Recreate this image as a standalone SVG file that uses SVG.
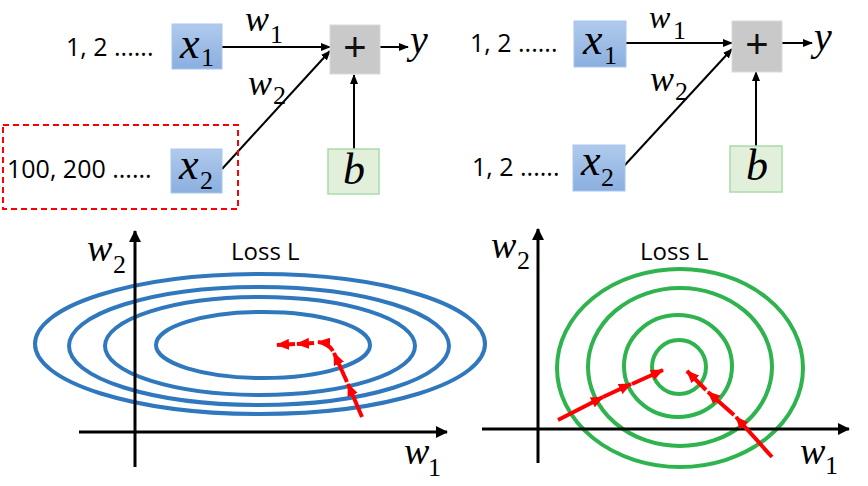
<svg xmlns="http://www.w3.org/2000/svg" width="868" height="486" viewBox="0 0 868 486">
<defs>
<linearGradient id="blueG" x1="0" y1="0" x2="0" y2="1">
<stop offset="0" stop-color="#b0caec"/>
<stop offset="1" stop-color="#8aafe0"/>
</linearGradient>
<marker id="ah" markerUnits="userSpaceOnUse" markerWidth="10" markerHeight="8" refX="9" refY="4" orient="auto">
<path d="M0,0 L10,4 L0,8 z" fill="#000"/>
</marker>
<marker id="axh" markerUnits="userSpaceOnUse" markerWidth="12" markerHeight="12" refX="11" refY="6" orient="auto">
<path d="M0,0 L12,6 L0,12 z" fill="#000"/>
</marker>
<marker id="rh" markerUnits="userSpaceOnUse" markerWidth="13" markerHeight="11" refX="12" refY="5.5" orient="auto">
<path d="M0,0 L13,5.5 L0,11 z" fill="#ff0000"/>
</marker>
<style>
.num{font-family:"Open Sans","Liberation Sans",sans-serif;font-size:25px;fill:#000}
.loss{font-family:"Open Sans","Liberation Sans",sans-serif;font-size:24px;fill:#000}
.mi{font-family:"Liberation Serif","DejaVu Serif",serif;font-style:italic;fill:#000}
.sub{font-family:"Liberation Serif","DejaVu Serif",serif;fill:#000}
.inbox{fill:url(#blueG);stroke:#a9c6ec;stroke-width:1}
.sum{fill:#c9c9c9;stroke:#dadada;stroke-width:1}
.bias{fill:#e2efda;stroke:#a8dcaa;stroke-width:1.5}
.conn{stroke:#000;stroke-width:2;fill:none;marker-end:url(#ah)}
.axis{stroke:#000;stroke-width:3;fill:none}
.blue{fill:none;stroke:#2f78bd;stroke-width:4}
.green{fill:none;stroke:#2fb34e;stroke-width:4}
.red{fill:none;stroke:#ff0000;stroke-width:4;marker-end:url(#rh)}
.plus{font-family:"Liberation Sans",sans-serif;font-size:40px;fill:#111}
</style>
</defs>

<!-- ===== Top left network ===== -->
<g id="connectors-left">
<line class="conn" x1="222" y1="47" x2="330" y2="47"/>
<line class="conn" x1="222" y1="169" x2="330" y2="51"/>
<line class="conn" x1="354" y1="149" x2="354" y2="75"/>
<line class="conn" x1="380" y1="47" x2="408" y2="47"/>
</g>
<g id="highlight-left">
<rect x="3" y="125" width="235" height="84" fill="none" stroke="#ff0000" stroke-width="2" stroke-dasharray="6,4"/>
</g>
<g id="in1-left">
<text class="num" x="66" y="56">1, 2 ......</text>
</g>
<g id="in2-left">
<text class="num" x="7" y="178">100, 200 ......</text>
</g>
<g id="x1-left">
<rect class="inbox" x="172" y="24" width="50" height="45"/>
<text class="mi" x="180" y="58" font-size="44">x</text>
<text class="sub" x="201" y="66" font-size="26">1</text>
</g>
<g id="x2-left">
<rect class="inbox" x="171" y="149" width="51" height="44"/>
<text class="mi" x="179" y="179" font-size="44">x</text>
<text class="sub" x="200" y="189" font-size="26">2</text>
</g>
<g id="w1-left">
<text class="mi" x="245" y="31" font-size="36">w</text>
<text class="sub" x="270" y="43" font-size="26">1</text>
</g>
<g id="w2-left">
<text class="mi" x="248" y="95" font-size="36">w</text>
<text class="sub" x="273" y="104" font-size="26">2</text>
</g>
<g id="sum-left">
<rect class="sum" x="330" y="25" width="50" height="49"/>
<text class="plus" x="355" y="61" text-anchor="middle">+</text>
</g>
<g id="b-left">
<rect class="bias" x="328" y="149" width="51" height="45"/>
<text class="mi" x="354" y="184" font-size="44" text-anchor="middle">b</text>
</g>
<g id="y-left">
<text class="mi" x="410" y="53" font-size="40">y</text>
</g>

<!-- ===== Top right network ===== -->
<g id="connectors-right">
<line class="conn" x1="626" y1="43" x2="732" y2="43"/>
<line class="conn" x1="624" y1="166" x2="732" y2="49"/>
<line class="conn" x1="756" y1="146" x2="756" y2="72"/>
<line class="conn" x1="782" y1="43" x2="812" y2="43"/>
</g>
<g id="in1-right">
<text class="num" x="470" y="52">1, 2 ......</text>
</g>
<g id="in2-right">
<text class="num" x="472" y="176">1, 2 ......</text>
</g>
<g id="x1-right">
<rect class="inbox" x="574" y="21" width="52" height="46"/>
<text class="mi" x="583" y="54" font-size="44">x</text>
<text class="sub" x="604" y="64" font-size="26">1</text>
</g>
<g id="x2-right">
<rect class="inbox" x="573" y="145" width="52" height="46"/>
<text class="mi" x="581" y="175" font-size="44">x</text>
<text class="sub" x="601" y="186" font-size="26">2</text>
</g>
<g id="w1-right">
<text class="mi" x="649" y="28" font-size="32">w</text>
<text class="sub" x="673" y="39" font-size="26">1</text>
</g>
<g id="w2-right">
<text class="mi" x="650" y="91" font-size="36">w</text>
<text class="sub" x="675" y="100" font-size="26">2</text>
</g>
<g id="sum-right">
<rect class="sum" x="732" y="21" width="50" height="51"/>
<text class="plus" x="757" y="58" text-anchor="middle">+</text>
</g>
<g id="b-right">
<rect class="bias" x="730" y="146" width="52" height="46"/>
<text class="mi" x="757" y="180" font-size="44" text-anchor="middle">b</text>
</g>
<g id="y-right">
<text class="mi" x="814" y="50" font-size="40">y</text>
</g>

<!-- ===== Bottom left loss plot ===== -->
<g id="plot-left">
<ellipse class="blue" cx="260" cy="344" rx="225" ry="70"/>
<ellipse class="blue" cx="259" cy="346" rx="190" ry="59"/>
<ellipse class="blue" cx="260" cy="346" rx="155" ry="49"/>
<ellipse class="blue" cx="263" cy="345" rx="107" ry="33"/>
<line class="axis" x1="135" y1="467" x2="135" y2="231" marker-end="url(#axh)"/>
<line class="axis" x1="79" y1="432" x2="447" y2="432" marker-end="url(#axh)"/>
<text class="loss" x="231" y="260">Loss L</text>
<text class="mi" x="87" y="261" font-size="38">w</text>
<text class="sub" x="113" y="273" font-size="26">2</text>
<text class="mi" x="404" y="464" font-size="38">w</text>
<text class="sub" x="428" y="476" font-size="26">1</text>
<path class="red" d="M362,417 L348,384"/>
<path class="red" d="M347,382 L334,353"/>
<path class="red" d="M333,351 Q328,343 318,342"/>
<path class="red" d="M314,343 L297,344"/>
<path class="red" d="M295,344 L277,345"/>
</g>

<!-- ===== Bottom right loss plot ===== -->
<g id="plot-right">
<ellipse class="green" cx="680" cy="368" rx="123" ry="99"/>
<ellipse class="green" cx="680" cy="367" rx="92" ry="79"/>
<ellipse class="green" cx="678" cy="366" rx="54" ry="51"/>
<ellipse class="green" cx="679" cy="367" rx="27" ry="27"/>
<line class="axis" x1="538" y1="463" x2="538" y2="229" marker-end="url(#axh)"/>
<line class="axis" x1="482" y1="429" x2="849" y2="429" marker-end="url(#axh)"/>
<text class="loss" x="640" y="260">Loss L</text>
<text class="mi" x="491" y="258" font-size="38">w</text>
<text class="sub" x="517" y="269" font-size="26">2</text>
<text class="mi" x="800" y="464" font-size="38">w</text>
<text class="sub" x="825" y="474" font-size="26">1</text>
<path class="red" d="M558,420 L603,397"/>
<path class="red" d="M603,397 L631,384"/>
<path class="red" d="M632,384 L663,370"/>
<path class="red" d="M772,457 L736,417"/>
<path class="red" d="M734,415 L708,392"/>
<path class="red" d="M706,390 L687,371"/>
</g>
</svg>
